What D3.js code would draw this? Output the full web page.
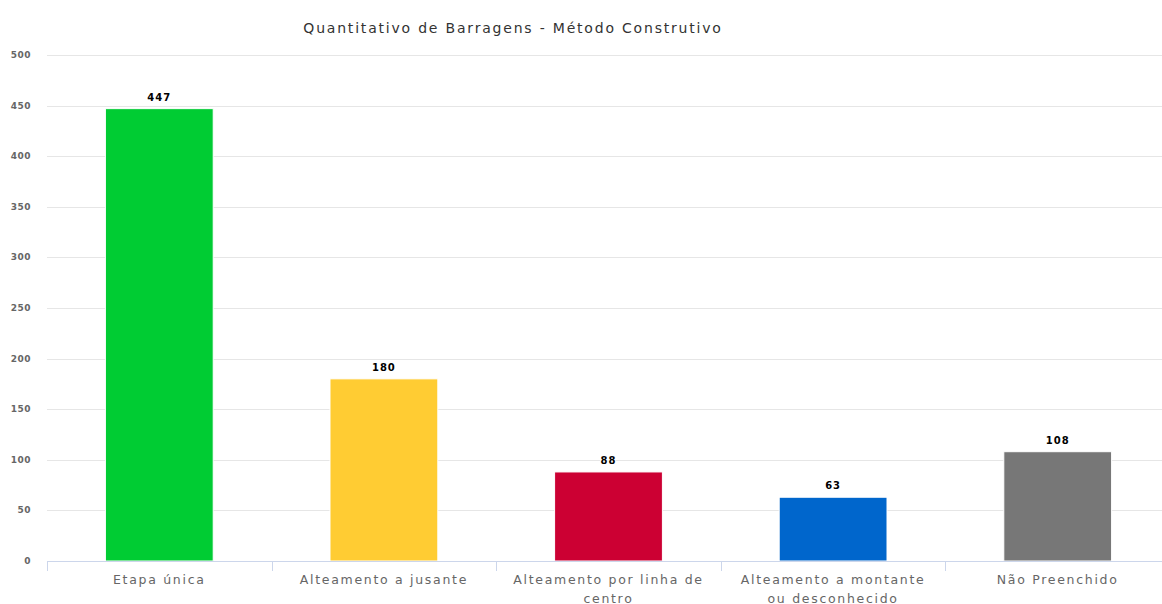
<!DOCTYPE html>
<html>
<head>
<meta charset="utf-8">
<script src="https://cdn.jsdelivr.net/npm/d3@7"></script>
<style>
  body { margin: 0; background: #fff; }
  svg { font-family: "DejaVu Sans", sans-serif; }
</style>
</head>
<body>
<svg id="chart" width="1162" height="604"></svg>
<script>
var categories = [ "Etapa única", "Alteamento a jusante", "Alteamento por linha de centro",
  "Alteamento a montante ou desconhecido", "Não Preenchido" ];
var values = [ 447, 180, 88, 63, 108 ];
var colors = [ "#00cc33", "#ffcc33", "#cc0033", "#0066cc", "#777777" ];
var yTicks = [ 0, 50, 100, 150, 200, 250, 300, 350, 400, 450, 500 ];

var svg = d3.select( "#chart" );
var plotLeft = 47, plotRight = 1170, plotTop = 55, plotBottom = 561;

var x = d3.scaleBand().domain( categories ).range( [ plotLeft, plotRight ] ).paddingInner( 0 ).paddingOuter( 0 );
var y = d3.scaleLinear().domain( [ 0, 500 ] ).range( [ plotBottom, plotTop ] );

// gridlines
svg.append( "g" ).selectAll( "line" ).data( yTicks ).join( "line" )
  .attr( "x1", plotLeft ).attr( "x2", 1162 )
  .attr( "y1", function( d ) { return Math.round( y( d ) ) + 0.5; } )
  .attr( "y2", function( d ) { return Math.round( y( d ) ) + 0.5; } )
  .attr( "stroke", "#e6e6e6" ).attr( "stroke-width", 1 );

// y labels
svg.append( "g" ).selectAll( "text" ).data( yTicks ).join( "text" )
  .attr( "x", 31 ).attr( "y", function( d ) { return y( d ) + 3; } )
  .attr( "text-anchor", "end" )
  .attr( "font-size", 9 ).attr( "font-weight", "bold" ).attr( "fill", "#666" )
  .attr( "letter-spacing", 0.5 )
  .text( function( d ) { return d; } );

// bars
var barW = x.bandwidth() * 0.48;
svg.append( "g" ).selectAll( "rect" ).data( values ).join( "rect" )
  .attr( "x", function( d, i ) { return x( categories[ i ] ) + ( x.bandwidth() - barW ) / 2; } )
  .attr( "y", function( d ) { return y( d ); } )
  .attr( "width", barW )
  .attr( "height", function( d ) { return plotBottom - y( d ); } )
  .attr( "fill", function( d, i ) { return colors[ i ]; } )
  .attr( "stroke", "#fff" ).attr( "stroke-width", 1 );

// value labels
svg.append( "g" ).selectAll( "text" ).data( values ).join( "text" )
  .attr( "x", function( d, i ) { return x( categories[ i ] ) + x.bandwidth() / 2; } )
  .attr( "y", function( d ) { return y( d ) - 8; } )
  .attr( "text-anchor", "middle" )
  .attr( "font-size", 10 ).attr( "font-weight", "bold" ).attr( "fill", "#000" )
  .attr( "letter-spacing", 1 )
  .attr( "stroke", "#fff" ).attr( "stroke-width", 2 ).attr( "paint-order", "stroke" )
  .text( function( d ) { return d; } );

// x axis line and ticks
var axis = svg.append( "g" );
axis.append( "line" )
  .attr( "x1", plotLeft ).attr( "x2", 1162 )
  .attr( "y1", plotBottom + 0.5 ).attr( "y2", plotBottom + 0.5 )
  .attr( "stroke", "#ccd6eb" );
axis.selectAll( "line.tick" ).data( categories ).join( "line" )
  .attr( "class", "tick" )
  .attr( "x1", function( d ) { return Math.round( x( d ) ) + 0.5; } )
  .attr( "x2", function( d ) { return Math.round( x( d ) ) + 0.5; } )
  .attr( "y1", plotBottom ).attr( "y2", plotBottom + 10 )
  .attr( "stroke", "#ccd6eb" );

// x labels (wrapped)
var wraps = [ [ "Etapa única" ], [ "Alteamento a jusante" ], [ "Alteamento por linha de", "centro" ],
  [ "Alteamento a montante", "ou desconhecido" ], [ "Não Preenchido" ] ];
var xl = axis.selectAll( "text" ).data( categories ).join( "text" )
  .attr( "text-anchor", "middle" )
  .attr( "font-size", 12.5 ).attr( "fill", "#666" )
  .attr( "letter-spacing", 1.7 )
  .attr( "x", function( d ) { return x( d ) + x.bandwidth() / 2; } )
  .attr( "y", plotBottom + 23 );
xl.each( function( d, i ) {
  var t = d3.select( this );
  wraps[ i ].forEach( function( line, j ) {
    t.append( "tspan" )
      .attr( "x", x( d ) + x.bandwidth() / 2 )
      .attr( "dy", j === 0 ? 0 : 19 )
      .text( line );
  } );
} );

// title
svg.append( "text" )
  .attr( "x", 513 ).attr( "y", 33 )
  .attr( "text-anchor", "middle" )
  .attr( "font-size", 14 ).attr( "fill", "#333" )
  .attr( "letter-spacing", 1.8 )
  .text( "Quantitativo de Barragens - Método Construtivo" );
</script>
</body>
</html>
